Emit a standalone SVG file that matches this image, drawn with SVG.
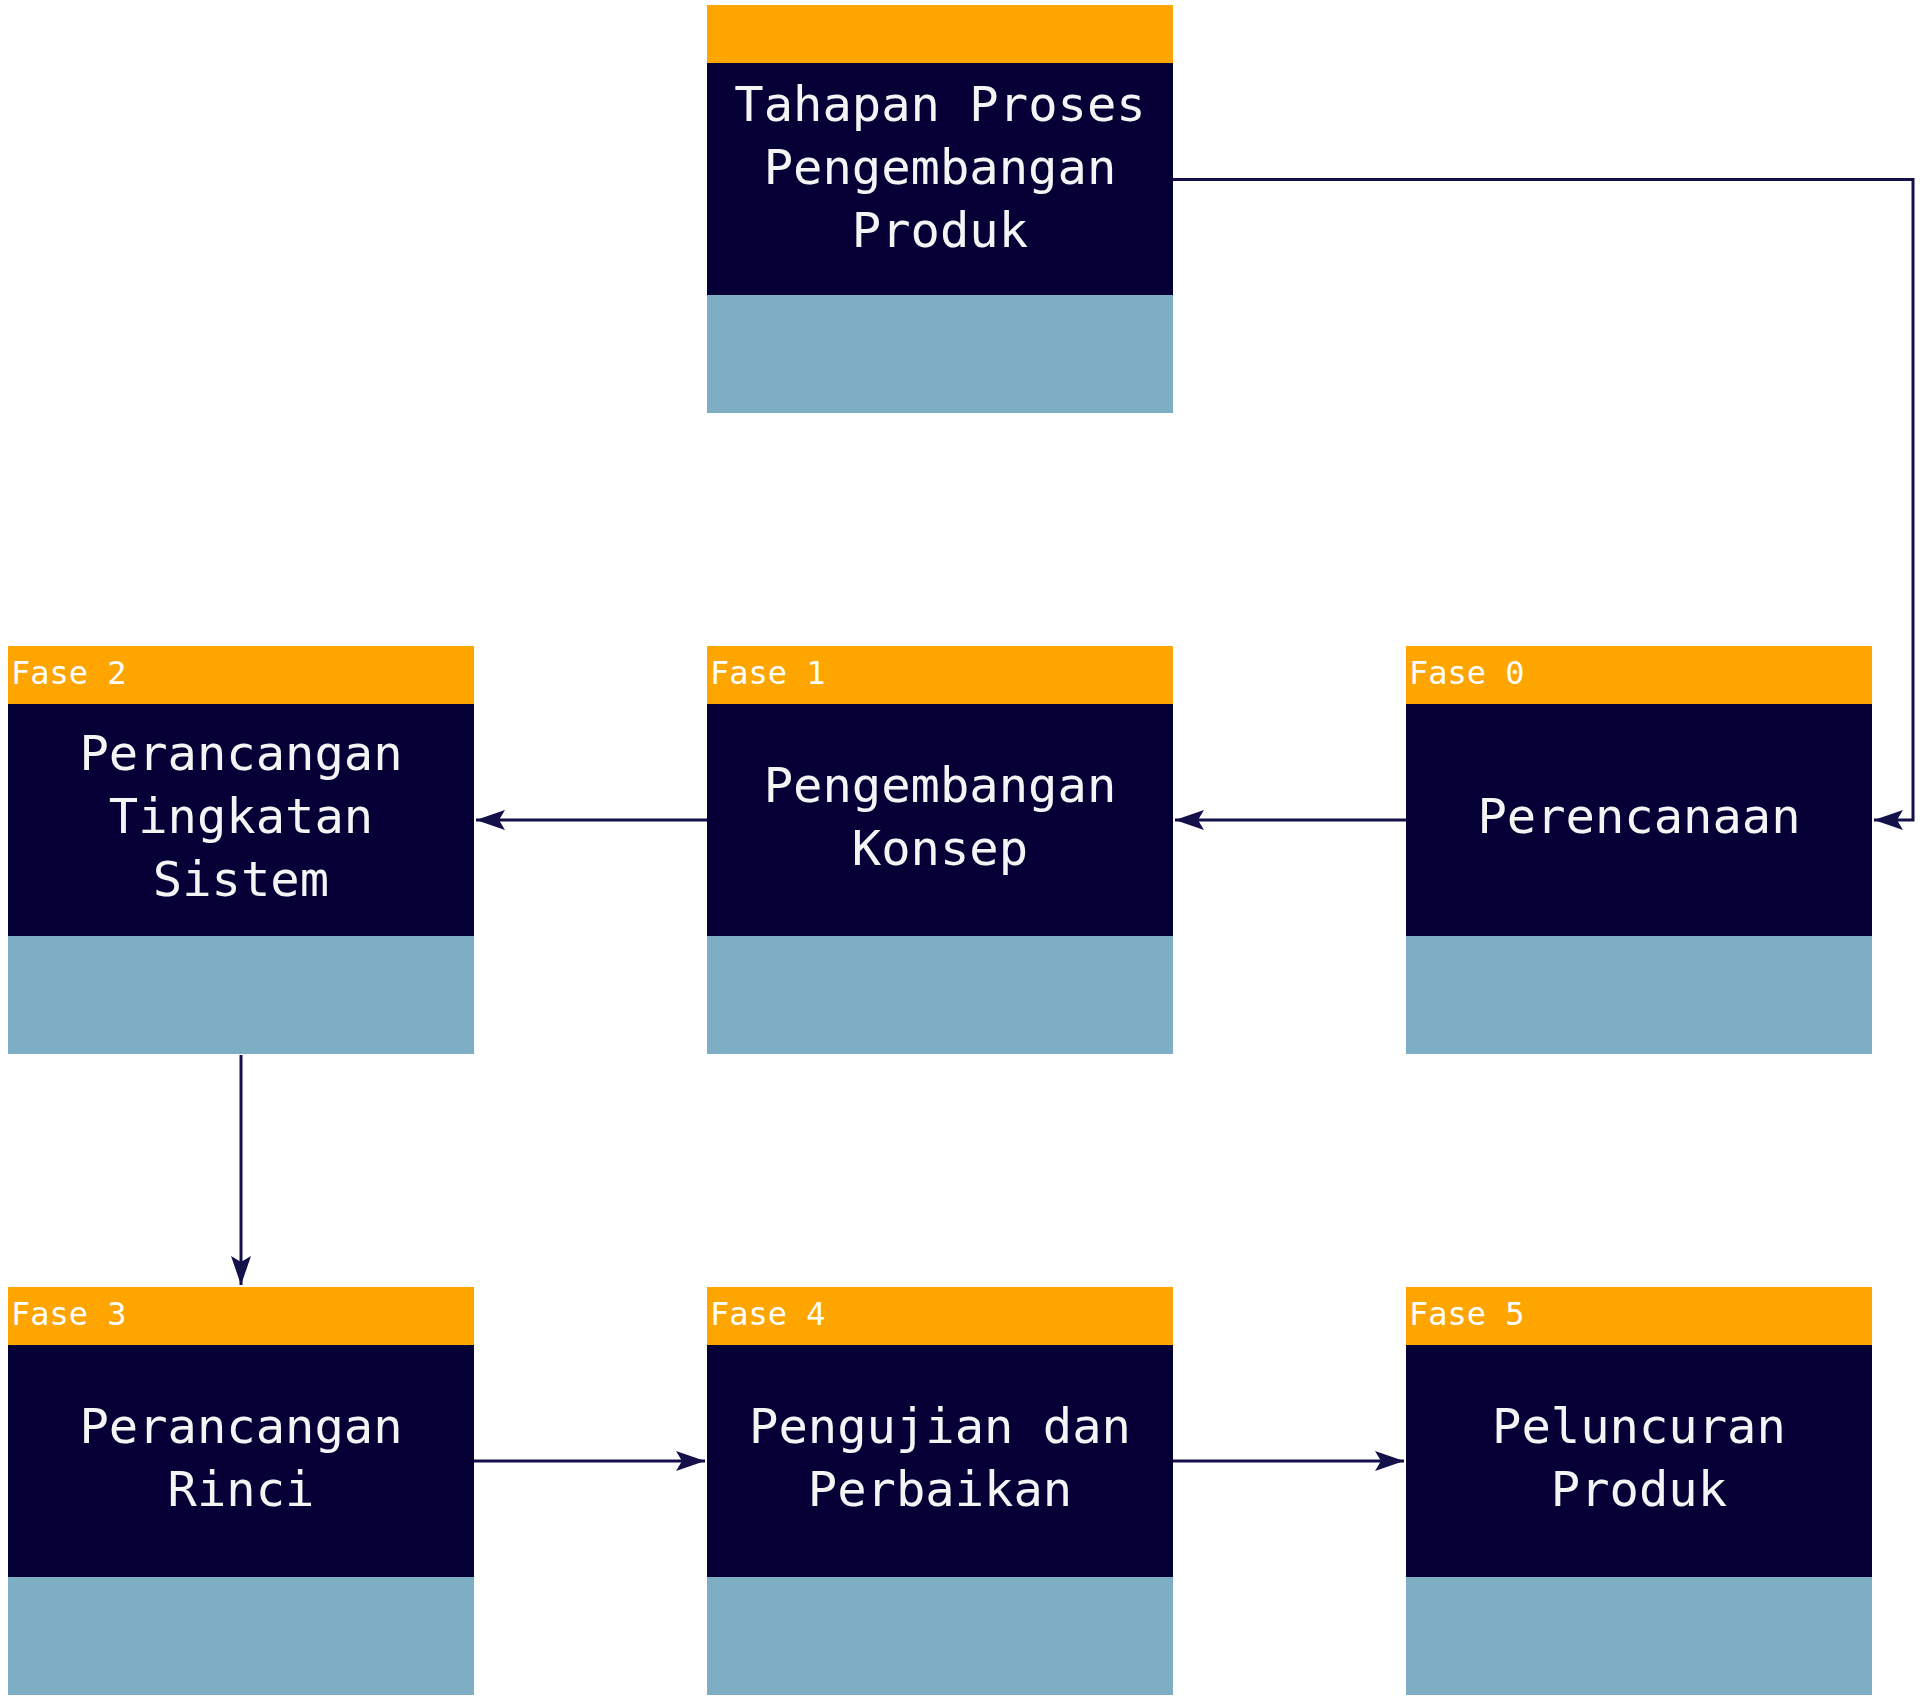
<svg xmlns="http://www.w3.org/2000/svg" width="1928" height="1697" viewBox="0 0 1928 1697">
<style>
.hd{fill:#FFA500}
.bd{fill:#050036}
.ft{fill:#7EAEC4}
.t{font-family:"DejaVu Sans Mono","Liberation Mono",monospace;font-size:48.8px;fill:#F4F4F4;text-anchor:middle}
.f{font-family:"DejaVu Sans Mono","Liberation Mono",monospace;font-size:32px;fill:#FFFFFF}
.c{fill:none;stroke:#14104A;stroke-width:3}
</style>
<defs>
<marker id="arr" markerUnits="userSpaceOnUse" markerWidth="32" markerHeight="22" refX="29" refY="11" orient="auto" viewBox="0 0 32 22">
<path d="M0,1 L29,11 L0,21 L6,11 Z" fill="#14104A"/>
</marker>
</defs>
<rect width="1928" height="1697" fill="#FFFFFF"/>
<g id="connectors">
<path class="c" d="M1173,179.5 H1913 V820 H1874" marker-end="url(#arr)"/>
<path class="c" d="M1406,820 H1175" marker-end="url(#arr)"/>
<path class="c" d="M707,820 H476" marker-end="url(#arr)"/>
<path class="c" d="M241,1055 V1285" marker-end="url(#arr)"/>
<path class="c" d="M474,1461 H705" marker-end="url(#arr)"/>
<path class="c" d="M1173,1461 H1404" marker-end="url(#arr)"/>
</g>
<g id="node-title">
<rect class="hd" x="707" y="5" width="466" height="58"/>
<rect class="bd" x="707" y="63" width="466" height="232"/>
<rect class="ft" x="707" y="295" width="466" height="118"/>
<text class="t" x="940" y="121">Tahapan Proses</text>
<text class="t" x="940" y="184">Pengembangan</text>
<text class="t" x="940" y="247">Produk</text>
</g>
<g id="node-fase0">
<rect class="hd" x="1406" y="646" width="466" height="58"/>
<rect class="bd" x="1406" y="704" width="466" height="232"/>
<rect class="ft" x="1406" y="936" width="466" height="118"/>
<text class="f" x="1409" y="684">Fase 0</text>
<text class="t" x="1639" y="833">Perencanaan</text>
</g>
<g id="node-fase1">
<rect class="hd" x="707" y="646" width="466" height="58"/>
<rect class="bd" x="707" y="704" width="466" height="232"/>
<rect class="ft" x="707" y="936" width="466" height="118"/>
<text class="f" x="710" y="684">Fase 1</text>
<text class="t" x="940" y="802">Pengembangan</text>
<text class="t" x="940" y="865">Konsep</text>
</g>
<g id="node-fase2">
<rect class="hd" x="8" y="646" width="466" height="58"/>
<rect class="bd" x="8" y="704" width="466" height="232"/>
<rect class="ft" x="8" y="936" width="466" height="118"/>
<text class="f" x="11" y="684">Fase 2</text>
<text class="t" x="241" y="770">Perancangan</text>
<text class="t" x="241" y="833">Tingkatan</text>
<text class="t" x="241" y="896">Sistem</text>
</g>
<g id="node-fase3">
<rect class="hd" x="8" y="1287" width="466" height="58"/>
<rect class="bd" x="8" y="1345" width="466" height="232"/>
<rect class="ft" x="8" y="1577" width="466" height="118"/>
<text class="f" x="11" y="1325">Fase 3</text>
<text class="t" x="241" y="1443">Perancangan</text>
<text class="t" x="241" y="1506">Rinci</text>
</g>
<g id="node-fase4">
<rect class="hd" x="707" y="1287" width="466" height="58"/>
<rect class="bd" x="707" y="1345" width="466" height="232"/>
<rect class="ft" x="707" y="1577" width="466" height="118"/>
<text class="f" x="710" y="1325">Fase 4</text>
<text class="t" x="940" y="1443">Pengujian dan</text>
<text class="t" x="940" y="1506">Perbaikan</text>
</g>
<g id="node-fase5">
<rect class="hd" x="1406" y="1287" width="466" height="58"/>
<rect class="bd" x="1406" y="1345" width="466" height="232"/>
<rect class="ft" x="1406" y="1577" width="466" height="118"/>
<text class="f" x="1409" y="1325">Fase 5</text>
<text class="t" x="1639" y="1443">Peluncuran</text>
<text class="t" x="1639" y="1506">Produk</text>
</g>
</svg>
